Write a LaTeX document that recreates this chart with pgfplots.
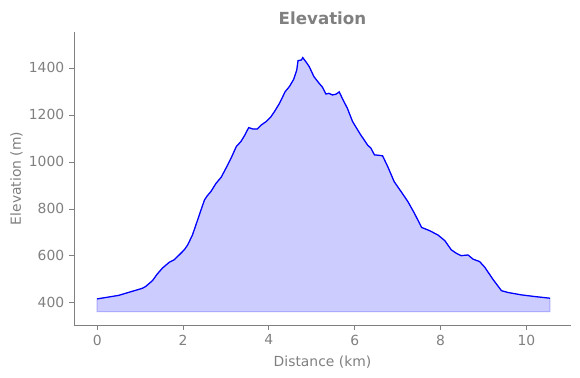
\documentclass[border=0pt]{standalone}
\usepackage{pgfplots}
\pgfplotsset{compat=1.18}
\usepackage{fontspec}
\setmainfont{DejaVu Sans}
\definecolor{txtgray}{RGB}{128,128,128}
\definecolor{fillblue}{RGB}{204,204,255}
\definecolor{edgeblue}{RGB}{170,170,255}
\begin{document}
\begin{tikzpicture}
\begin{axis}[
  scale only axis,
  width=357.84pt, height=210.96pt,
  xmin=-0.54, xmax=11.04,
  ymin=306, ymax=1553,
  axis lines*=left,
  axis line style={txtgray, line width=0.6pt},
  xtick={0,2,4,6,8,10},
  ytick={400,600,800,1000,1200,1400},
  tick align=outside,
  major tick length=3.5pt,
  tick style={txtgray, line width=0.6pt},
  tick label style={font=\fontsize{10}{12}\selectfont, text=txtgray},
  /pgf/number format/assume math mode=true,
  /pgf/number format/1000 sep={},
  xlabel={Distance (km)},
  ylabel={Elevation (m)},
  label style={font=\fontsize{10}{12}\selectfont, text=txtgray},
  xlabel style={yshift=-0.5pt},
  ylabel style={yshift=-2.5pt},
  title={\textbf{Elevation}},
  title style={font=\fontsize{12}{14}\selectfont, text=txtgray, yshift=-4pt},
  clip=false,
]
\addplot[draw=edgeblue, fill=fillblue, line width=0.7pt] coordinates {
(0,363) (0,417) (0.5,432) (1.05,462) (1.13,470) (1.29,495) (1.40,523) (1.52,548) (1.68,573) (1.79,583)
(1.91,604) (2.03,626) (2.11,647) (2.22,689) (2.34,753) (2.42,796) (2.50,838) (2.57,857)
(2.65,874) (2.77,909) (2.89,935) (3.00,973) (3.12,1016) (3.24,1065) (3.35,1087) (3.43,1111)
(3.53,1146) (3.63,1140) (3.73,1140) (3.82,1157) (3.94,1172) (4.04,1190) (4.13,1214)
(4.25,1250) (4.38,1299) (4.48,1321) (4.58,1352) (4.65,1391) (4.68,1431) (4.76,1434)
(4.79,1444) (4.86,1427) (4.94,1406) (5.05,1363) (5.17,1335) (5.25,1318) (5.33,1289)
(5.40,1292) (5.48,1285) (5.56,1288) (5.64,1298) (5.71,1271) (5.83,1228) (5.95,1172)
(6.07,1136) (6.14,1115) (6.22,1094) (6.30,1072) (6.38,1058) (6.46,1030) (6.57,1028)
(6.65,1026) (6.77,980) (6.92,916) (7.08,874) (7.24,831) (7.39,782) (7.56,721) (7.74,708)
(7.94,689) (8.10,665) (8.25,626) (8.37,611) (8.48,601) (8.64,604) (8.76,586) (8.91,576)
(9.03,552) (9.23,498) (9.42,452) (9.58,444) (9.89,434) (10.20,427) (10.55,420) (10.55,363)
} -- cycle;
\addplot[blue, line width=0.9pt] coordinates {
(0,417) (0.5,432) (1.05,462) (1.13,470) (1.29,495) (1.40,523) (1.52,548) (1.68,573) (1.79,583)
(1.91,604) (2.03,626) (2.11,647) (2.22,689) (2.34,753) (2.42,796) (2.50,838) (2.57,857)
(2.65,874) (2.77,909) (2.89,935) (3.00,973) (3.12,1016) (3.24,1065) (3.35,1087) (3.43,1111)
(3.53,1146) (3.63,1140) (3.73,1140) (3.82,1157) (3.94,1172) (4.04,1190) (4.13,1214)
(4.25,1250) (4.38,1299) (4.48,1321) (4.58,1352) (4.65,1391) (4.68,1431) (4.76,1434)
(4.79,1444) (4.86,1427) (4.94,1406) (5.05,1363) (5.17,1335) (5.25,1318) (5.33,1289)
(5.40,1292) (5.48,1285) (5.56,1288) (5.64,1298) (5.71,1271) (5.83,1228) (5.95,1172)
(6.07,1136) (6.14,1115) (6.22,1094) (6.30,1072) (6.38,1058) (6.46,1030) (6.57,1028)
(6.65,1026) (6.77,980) (6.92,916) (7.08,874) (7.24,831) (7.39,782) (7.56,721) (7.74,708)
(7.94,689) (8.10,665) (8.25,626) (8.37,611) (8.48,601) (8.64,604) (8.76,586) (8.91,576)
(9.03,552) (9.23,498) (9.42,452) (9.58,444) (9.89,434) (10.20,427) (10.55,420)
};
\coordinate (sw) at (rel axis cs:0,0);
\coordinate (ne) at (rel axis cs:1,1);
\end{axis}
\pgfresetboundingbox
\useasboundingbox ([shift={(-53.28pt,-38.16pt)}]sw) rectangle ([shift={(6.48pt,23.04pt)}]ne);
\end{tikzpicture}
\end{document}
